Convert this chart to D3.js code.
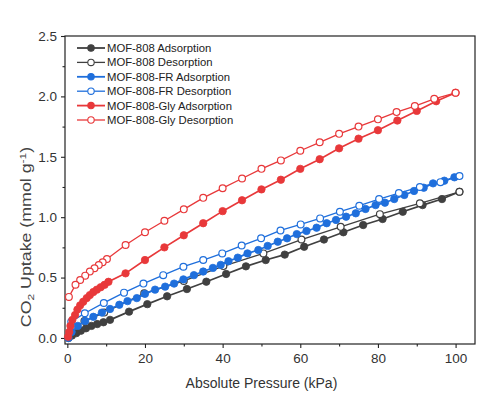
<!DOCTYPE html>
<html>
<head>
<meta charset="utf-8">
<script src="https://cdn.jsdelivr.net/npm/d3@7"></script>
<style>
  body { margin: 0; background: #fff; }
  text { font-family: "Liberation Sans", Arial, sans-serif; fill: #222; }
</style>
</head>
<body>
<svg id="chart" width="479" height="395"></svg>
<script>
// [pressure kPa, uptake mmol/g]
var mofAds = [[0.3,0.0],[1.2,0.02],[2.3,0.04],[3.5,0.06],[4.8,0.08],[6.2,0.10],[7.7,0.115],[9.3,0.13],[11,0.15],
  [15.9,0.218],[20.6,0.28],[25.7,0.345],[30.8,0.405],[35.8,0.466],[40.9,0.53],[46,0.593],[51.1,0.645],[56,0.69],
  [61,0.755],[66.1,0.815],[71.1,0.875],[76.2,0.935],[81.2,0.985],[86.4,1.045],[91.5,1.10],[96.5,1.15],[101,1.21]];
var mofDes = [[101,1.21],[90.8,1.115],[80.5,1.025],[70.4,0.92],[60.3,0.815],[50.5,0.70],[40.2,0.595],[30,0.472],
  [19.8,0.37],[9.5,0.21],[4.4,0.14]];
var frAds = [[0.3,0.0],[1.1,0.05],[2.7,0.10],[4.6,0.14],[6.7,0.175],[8.9,0.21],[11,0.24],[13.4,0.275],[15.5,0.305],
  [17.9,0.33],[20,0.365],[22.6,0.40],[25.2,0.425],[27.5,0.45],[29.9,0.485],[32.6,0.52],[35,0.55],[37.5,0.58],
  [39.5,0.605],[41.5,0.635],[43.9,0.665],[46.4,0.70],[49.2,0.728],[51.6,0.762],[54.2,0.797],[56.6,0.825],[59.1,0.86],
  [61.6,0.886],[64.2,0.913],[66.8,0.95],[69.2,0.977],[71.8,1.004],[74.3,1.032],[76.8,1.068],[79.4,1.10],[81.8,1.12],
  [84.2,1.15],[86.8,1.184],[89.3,1.217],[91.8,1.244],[94.2,1.28],[97.1,1.302],[99.7,1.33]];
var frDes = [[101,1.34],[96.1,1.29],[90.8,1.25],[85.4,1.20],[80.3,1.15],[75.2,1.095],[70.2,1.045],[65.1,0.99],
  [60.1,0.94],[54.9,0.89],[49.9,0.825],[44.9,0.765],[39.9,0.70],[35,0.645],[29.9,0.59],[24.7,0.52],[19.6,0.45],
  [14.6,0.375],[9.4,0.29],[4.5,0.205],[1.0,0.135]];
var glyAds = [[0.2,0.01],[0.5,0.05],[0.8,0.10],[1.3,0.15],[2.0,0.19],[2.6,0.235],[3.3,0.27],[4.1,0.30],[5.0,0.33],
  [5.8,0.355],[6.7,0.38],[7.6,0.40],[8.6,0.42],[9.6,0.44],[10.6,0.465],[15,0.535],[20,0.645],[25,0.75],[30,0.85],
  [35,0.95],[40,1.05],[45,1.14],[50,1.23],[55,1.31],[60,1.40],[65,1.48],[70,1.57],[75,1.65],[80,1.72],[85,1.80],
  [90,1.88],[95,1.96],[100,2.03]];
var glyDes = [[100,2.03],[94.5,1.98],[89.5,1.92],[84.8,1.87],[80,1.81],[75,1.75],[70,1.69],[65,1.62],[60,1.55],
  [55,1.47],[50,1.40],[45,1.32],[40,1.24],[35,1.16],[30,1.065],[25,0.97],[20,0.875],[15,0.77],[10.2,0.654],
  [9.1,0.627],[8.1,0.604],[7.0,0.577],[5.8,0.55],[4.6,0.516],[3.3,0.48],[2.1,0.44],[0.4,0.34]];

var seriesNames = ["MOF-808 Adsorption","MOF-808 Desorption","MOF-808-FR Adsorption","MOF-808-FR Desorption",
  "MOF-808-Gly Adsorption","MOF-808-Gly Desorption"];
var seriesData = [mofAds, mofDes, frAds, frDes, glyAds, glyDes];
var seriesColors = ["#404040","#404040","#1f6fdc","#1f6fdc","#e8383a","#e8383a"];
var xTicks = [0,20,40,60,80,100];
var yTicks = [0.0,0.5,1.0,1.5,2.0,2.5];

var svg = d3.select("#chart");
var plotLeft = 65, plotRight = 475, plotTop = 36, plotBottom = 344;

var x = d3.scaleLinear().domain([-0.6,105]).range([plotLeft,plotRight]);
var y = d3.scaleLinear().domain([-0.05,2.5]).range([plotBottom,plotTop]);

// frame
svg.append("rect")
  .attr("x",plotLeft).attr("y",plotTop)
  .attr("width",plotRight-plotLeft).attr("height",plotBottom-plotTop)
  .style("fill","none").style("stroke","#222").style("stroke-width",1.2);

// bottom axis: major + minor
svg.append("g").attr("transform","translate(0,"+plotBottom+")")
  .call(d3.axisBottom(x).tickValues(xTicks).tickSize(4).tickPadding(5).tickFormat(d3.format("d")));
svg.append("g").attr("transform","translate(0,"+plotBottom+")")
  .call(d3.axisBottom(x).tickValues([10,30,50,70,90]).tickSize(2.5).tickFormat(""));

svg.append("g").attr("transform","translate("+plotLeft+",0)")
  .call(d3.axisLeft(y).tickValues(yTicks).tickSize(4).tickPadding(4).tickFormat(d3.format(".1f")));
svg.append("g").attr("transform","translate("+plotLeft+",0)")
  .call(d3.axisLeft(y).tickValues([0.25,0.75,1.25,1.75,2.25]).tickSize(2.5).tickFormat(""));

svg.selectAll(".domain").remove();
svg.selectAll(".tick line").style("stroke","#222").style("stroke-width",1.1);
svg.selectAll(".tick text").style("font-size","13.5px").style("fill","#333")
  .style("font-family","'Liberation Sans', Arial, sans-serif");

// axis titles
svg.append("text")
  .attr("x",(x(0)+x(100))/2).attr("y",388)
  .attr("text-anchor","middle")
  .style("font-size","14px").style("fill","#333")
  .text("Absolute Pressure (kPa)");

// the y title is stretched along its length, like the reference
var yt = svg.append("text")
  .attr("transform","translate(31,237) rotate(-90) scale(1.27,1)")
  .attr("text-anchor","middle")
  .style("font-size","14px").style("fill","#444");
yt.append("tspan").text("CO");
yt.append("tspan").attr("dy",3).style("font-size","9.5px").text("2");
yt.append("tspan").attr("dy",-3).text(" Uptake (mmol g");
yt.append("tspan").attr("dy",-5).style("font-size","9.5px").text("-1");
yt.append("tspan").attr("dy",5).text(")");

// series
var line = d3.line().x(function(d){ return x(d[0]); }).y(function(d){ return y(d[1]); });

seriesData.forEach(function(data,i){
  var isDes = i % 2 == 1;
  var g = svg.append("g");
  g.append("path")
    .attr("d",line(data))
    .style("fill","none")
    .style("stroke",seriesColors[i])
    .style("stroke-width",isDes ? 1.3 : 1.7);
  g.selectAll("circle").data(data).enter()
    .append("circle")
    .attr("cx",function(d){ return x(d[0]); })
    .attr("cy",function(d){ return y(d[1]); })
    .attr("r",isDes ? 3.4 : 3.7)
    .style("fill",isDes ? "#fff" : seriesColors[i])
    .style("stroke",seriesColors[i])
    .style("stroke-width",isDes ? 1.2 : 0.8);
});

// legend
var legend = svg.append("g");
seriesNames.forEach(function(name,i){
  var ly = 48 + i*14.4;
  var isDes = i % 2 == 1;
  legend.append("line")
    .attr("x1",77).attr("x2",105).attr("y1",ly).attr("y2",ly)
    .style("stroke",seriesColors[i]).style("stroke-width",isDes ? 1.3 : 1.8);
  legend.append("circle")
    .attr("cx",91).attr("cy",ly).attr("r",3.2)
    .style("fill",isDes ? "#fff" : seriesColors[i])
    .style("stroke",seriesColors[i]).style("stroke-width",1.1);
  legend.append("text")
    .attr("x",107).attr("y",ly+4)
    .style("font-size","11.3px")
    .text(name);
});
</script>
</body>
</html>
